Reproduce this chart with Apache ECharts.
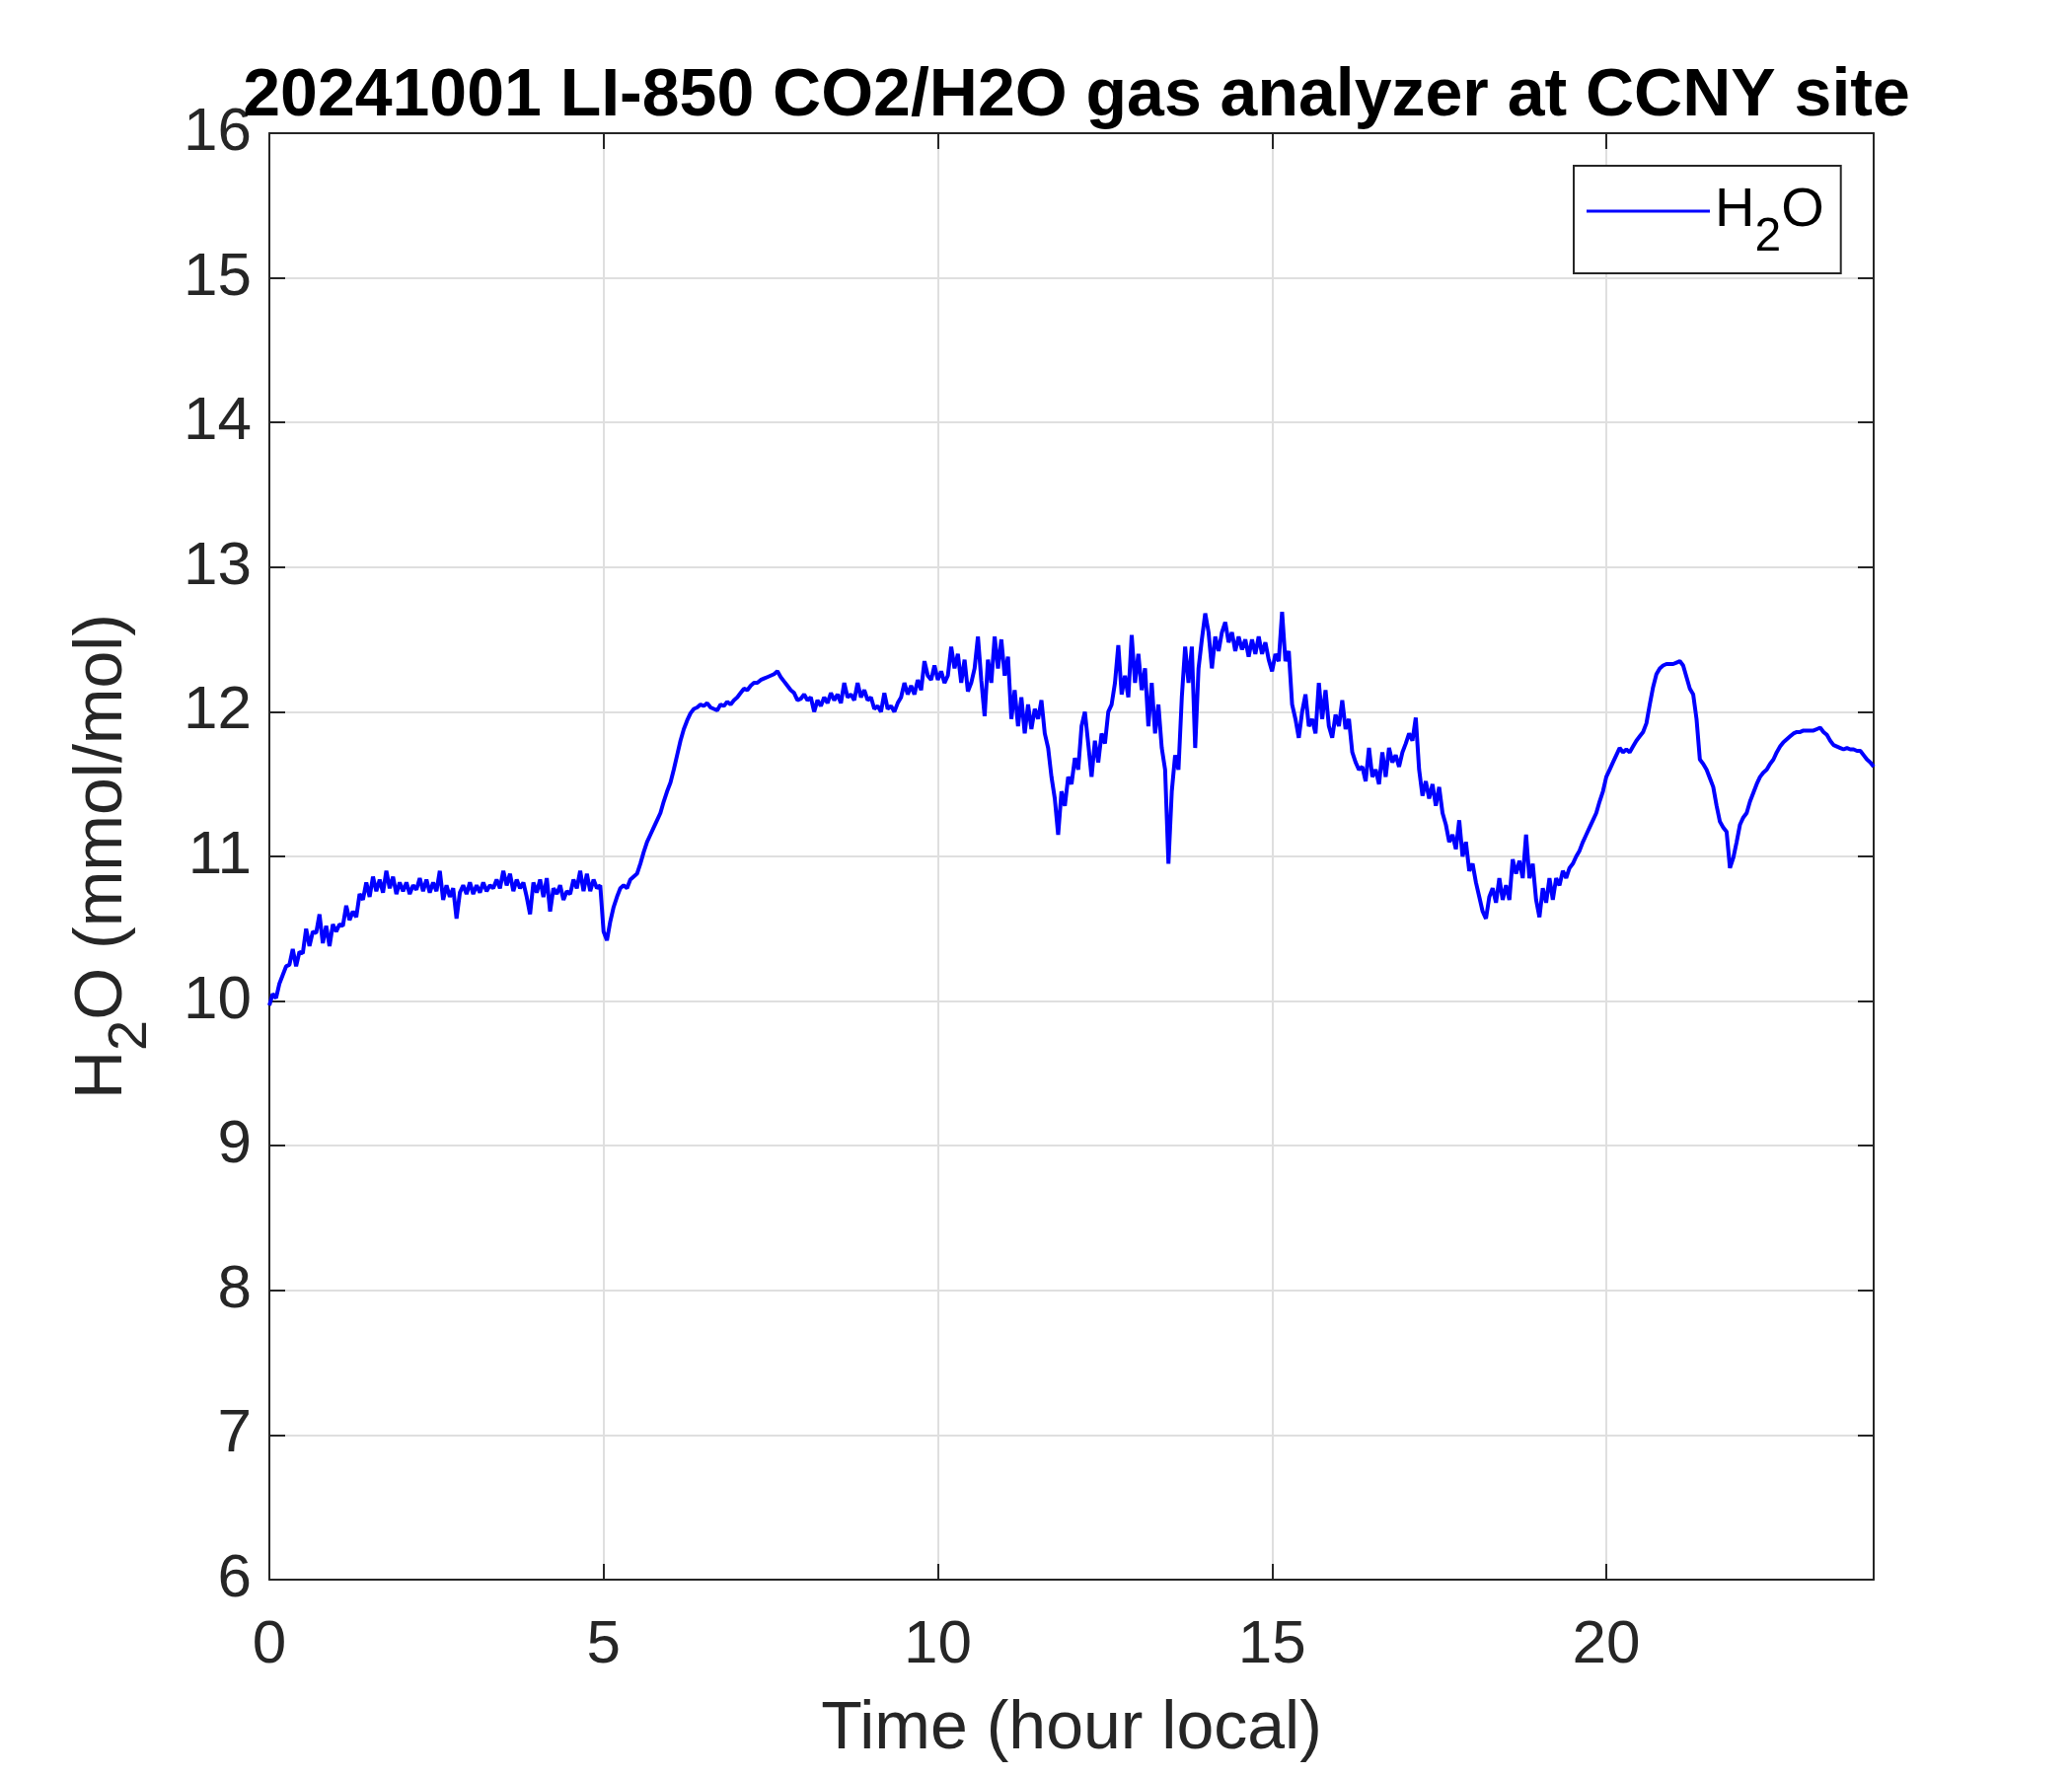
<!DOCTYPE html>
<html>
<head>
<meta charset="utf-8">
<script src="https://cdn.jsdelivr.net/npm/echarts@6/dist/echarts.min.js"></script>
<style>
  html, body { margin: 0; padding: 0; background: #fff; }
</style>
</head>
<body>
<div id="myChart" style="width: 2100px; height: 1800px;"></div>
<script>
// sample spacing of the readings (hours)
var STEP_HOURS = 0.05;

// H2O (mmol/mol), every 0.05 h
var h2oNight = [
  9.97, 10.05, 10.02, 10.12, 10.18, 10.24, 10.25, 10.36, 10.24, 10.34, 10.33, 10.5, 10.38, 10.48, 10.47, 10.6, 10.4, 10.52, 10.38, 10.53,
  10.48, 10.53, 10.52, 10.66, 10.56, 10.62, 10.58, 10.74, 10.7, 10.82, 10.72, 10.86, 10.76, 10.84, 10.75, 10.9, 10.78, 10.86, 10.74, 10.82,
  10.76, 10.82, 10.74, 10.8, 10.77, 10.85, 10.76, 10.84, 10.75, 10.82, 10.76, 10.9, 10.7, 10.8, 10.72, 10.78, 10.57, 10.75, 10.8, 10.74,
  10.82, 10.74, 10.8, 10.75, 10.82, 10.76, 10.8, 10.78, 10.84, 10.78, 10.9, 10.8, 10.88, 10.76, 10.84, 10.78, 10.82, 10.72, 10.6, 10.82,
  10.75, 10.84, 10.72, 10.85, 10.62, 10.78, 10.74, 10.8, 10.7, 10.76, 10.74, 10.84, 10.78, 10.9, 10.76, 10.88, 10.76, 10.84, 10.78, 10.8,
  10.48, 10.42, 10.55, 10.65, 10.72, 10.78, 10.8, 10.78, 10.84, 10.86, 10.88, 10.95, 11.03, 11.1, 11.15, 11.2, 11.25, 11.3, 11.38, 11.45
];
var h2oMorning = [
  11.51, 11.6, 11.7, 11.8, 11.88, 11.94, 11.99, 12.02, 12.03, 12.05, 12.04, 12.06, 12.03, 12.02, 12.01, 12.05, 12.04, 12.07, 12.05, 12.08,
  12.1, 12.13, 12.16, 12.15, 12.18, 12.2, 12.2, 12.22, 12.23, 12.24, 12.25, 12.26, 12.28, 12.24, 12.21, 12.18, 12.15, 12.13, 12.08, 12.09,
  12.12, 12.08, 12.1, 12.0, 12.08, 12.04, 12.1, 12.06, 12.13, 12.08, 12.12, 12.06, 12.2, 12.1, 12.12, 12.08, 12.2, 12.1, 12.15, 12.08,
  12.1, 12.02, 12.04, 12.0, 12.13, 12.02, 12.04, 12.0, 12.06, 12.1, 12.2, 12.12, 12.18, 12.12, 12.22, 12.15, 12.35, 12.25, 12.22, 12.32,
  12.22, 12.28, 12.2, 12.25, 12.45, 12.3, 12.4, 12.2, 12.36, 12.14, 12.2, 12.3, 12.52, 12.22, 11.97, 12.36, 12.2, 12.52, 12.3, 12.5,
  12.25, 12.38, 11.95, 12.15, 11.9, 12.1, 11.85, 12.05, 11.88, 12.02, 11.95, 12.08, 11.85, 11.75, 11.55, 11.4, 11.15, 11.45, 11.35, 11.55
];
var h2oAfternoon = [
  11.5, 11.68, 11.6, 11.9, 12.0, 11.78, 11.55, 11.8, 11.65, 11.85, 11.78, 12.0, 12.05, 12.2, 12.46, 12.12, 12.25, 12.1, 12.53, 12.2,
  12.4, 12.15, 12.3, 11.9, 12.2, 11.85, 12.05, 11.75, 11.6, 10.95, 11.45, 11.7, 11.6, 12.1, 12.45, 12.2, 12.45, 11.75, 12.3, 12.5,
  12.68, 12.55, 12.3, 12.52, 12.42, 12.55, 12.62, 12.48, 12.55, 12.42, 12.52, 12.43, 12.5, 12.38, 12.5, 12.4, 12.52, 12.4, 12.48, 12.36,
  12.28, 12.4, 12.35, 12.69, 12.35, 12.42, 12.05, 11.95, 11.82, 12.0, 12.12, 11.9, 11.95, 11.85, 12.2, 11.95, 12.15, 11.9, 11.82, 11.98,
  11.9, 12.08, 11.88, 11.95, 11.72, 11.65, 11.6, 11.62, 11.52, 11.75, 11.55, 11.6, 11.5, 11.72, 11.55, 11.75, 11.65, 11.7, 11.62, 11.72,
  11.78, 11.85, 11.8, 11.96, 11.6, 11.42, 11.52, 11.4, 11.5, 11.35, 11.48, 11.3, 11.22, 11.1, 11.15, 11.05, 11.25, 11.0, 11.1, 10.9
];
var h2oEvening = [
  10.95, 10.82, 10.72, 10.62, 10.57, 10.72, 10.78, 10.68, 10.85, 10.7, 10.8, 10.7, 10.98, 10.88, 10.97, 10.85, 11.15, 10.85, 10.95, 10.7,
  10.58, 10.78, 10.68, 10.85, 10.7, 10.85, 10.8, 10.9, 10.85, 10.92, 10.95, 11.0, 11.04, 11.1, 11.15, 11.2, 11.25, 11.3, 11.38, 11.45,
  11.55, 11.6, 11.65, 11.7, 11.75, 11.72, 11.74, 11.72, 11.76, 11.8, 11.83, 11.86, 11.92, 12.05, 12.17, 12.26, 12.3, 12.32, 12.33, 12.33,
  12.33, 12.34, 12.35, 12.32, 12.24, 12.16, 12.12, 11.95, 11.67, 11.64, 11.6, 11.54, 11.48, 11.35, 11.24, 11.2, 11.17, 10.92, 10.99, 11.1,
  11.22, 11.27, 11.3, 11.38, 11.44, 11.5, 11.55, 11.58, 11.6, 11.64, 11.67, 11.72, 11.76, 11.79, 11.81, 11.83, 11.85, 11.86, 11.86, 11.87,
  11.87, 11.87, 11.87, 11.88, 11.89, 11.86, 11.84, 11.8, 11.77, 11.76, 11.75, 11.74, 11.75, 11.74, 11.74, 11.73, 11.73, 11.7, 11.67, 11.65,
  11.62
];

var h2o = h2oNight.concat(h2oMorning, h2oAfternoon, h2oEvening);
var points = [];
for (var i = 0; i < h2o.length; i++) {
  points.push([+(i * STEP_HOURS).toFixed(2), h2o[i]]);
}

var FONT = '"Liberation Sans", Arial, Helvetica, sans-serif';
var INK = '#262626';

function boxAxis(min, max, interval, pos, showLabels, extra) {
  var ax = {
    type: 'value',
    position: pos,
    min: min,
    max: max,
    interval: interval,
    axisLine: { show: true, onZero: false, lineStyle: { color: INK, width: 2 } },
    axisTick: { show: true, inside: true, length: 16, lineStyle: { color: INK, width: 2 } },
    axisLabel: { show: showLabels, color: INK, fontFamily: FONT, fontSize: 62, margin: 18, showMaxLabel: showLabels },
    splitLine: { show: showLabels, lineStyle: { color: '#dfdfdf', width: 2 } }
  };
  for (var k in extra) ax[k] = extra[k];
  return ax;
}

var xBottom = boxAxis(0, 24, 5, 'bottom', true, {
  name: 'Time (hour local)',
  nameLocation: 'middle',
  nameGap: 118,
  nameTextStyle: { color: INK, fontFamily: FONT, fontSize: 68 }
});
xBottom.axisLabel.showMaxLabel = false;
xBottom.axisLabel.margin = 36;

var yLeft = boxAxis(6, 16, 1, 'left', true, {
  name: '{n|H}{s|2}{n|O (mmol/mol)}',
  nameLocation: 'middle',
  nameGap: 112,
  nameTextStyle: {
    color: INK,
    fontFamily: FONT,
    rich: {
      n: { fontSize: 68, fontFamily: FONT, color: INK },
      s: { fontSize: 56, fontFamily: FONT, color: INK, padding: [58, 0, 0, 0] }
    }
  }
});

var option = {
  animation: false,
  backgroundColor: '#ffffff',
  title: {
    text: '20241001 LI-850 CO2/H2O gas analyzer at CCNY site',
    left: 1086,
    textAlign: 'center',
    top: 59,
    textStyle: { color: '#000', fontFamily: FONT, fontSize: 68, fontWeight: 'bold' }
  },
  legend: {
    left: 1595,
    top: 168,
    orient: 'horizontal',
    backgroundColor: '#fff',
    borderColor: INK,
    borderWidth: 2,
    borderRadius: 0,
    padding: [18, 17, 12, 13],
    itemWidth: 125,
    itemHeight: 3,
    itemGap: 12,
    icon: 'rect',
    data: ['H2O'],
    formatter: function () { return '{n|H}{s|2}{n|O}'; },
    textStyle: {
      padding: [0, 0, 0, 0],
      rich: {
        n: { fontSize: 56, fontFamily: FONT, color: '#000' },
        s: { fontSize: 48, fontFamily: FONT, color: '#000', padding: [54, 0, 0, 0] }
      }
    }
  },
  grid: { left: 273, right: 201, top: 135, bottom: 199 },
  xAxis: [xBottom, boxAxis(0, 24, 5, 'top', false, {})],
  yAxis: [yLeft, boxAxis(6, 16, 1, 'right', false, {})],
  series: [{
    name: 'H2O',
    type: 'line',
    xAxisIndex: 0,
    yAxisIndex: 0,
    data: points,
    showSymbol: false,
    symbol: 'none',
    lineStyle: { color: '#0000ff', width: 4 },
    itemStyle: { color: '#0000ff' }
  }]
};

var myChart = echarts.init(document.getElementById('myChart'));
myChart.setOption(option);
</script>
</body>
</html>
